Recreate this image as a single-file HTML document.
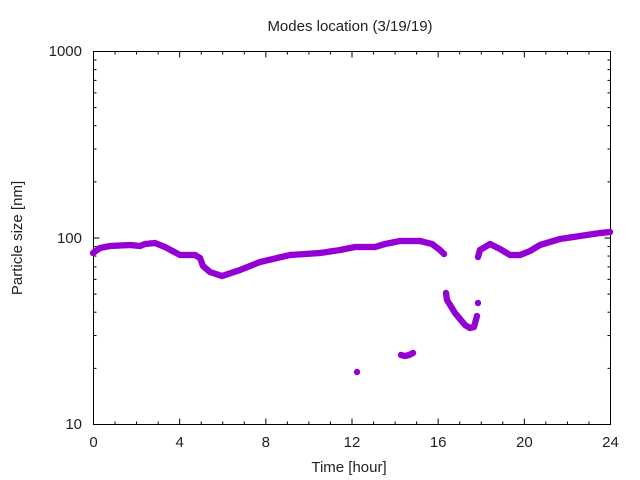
<!DOCTYPE html><html><head><style>body{margin:0;background:#fff}svg{display:block}text{font-family:"Liberation Sans","DejaVu Sans",sans-serif;font-size:15px;fill:#222}</style></head><body>
<svg id="s" width="640" height="480" xmlns="http://www.w3.org/2000/svg">
<text x="350" y="31" text-anchor="middle">Modes location (3/19/19)</text>
<text x="349" y="472" text-anchor="middle">Time [hour]</text>
<text transform="translate(22,238) rotate(-90)" text-anchor="middle">Particle size [nm]</text>
<g id="ax" stroke="#000" stroke-width="1" fill="none"><rect x="93.5" y="51.5" width="517" height="373"/></g>
<g id="pts" fill="#9400d3"></g>
</svg>
<script>
var ax=document.getElementById('ax'),s=document.getElementById('s'),P=document.getElementById('pts');
function L(x1,y1,x2,y2){var l=document.createElementNS('http://www.w3.org/2000/svg','line');l.setAttribute('x1',x1);l.setAttribute('y1',y1);l.setAttribute('x2',x2);l.setAttribute('y2',y2);ax.appendChild(l);}
function T(x,y,t,a){var e=document.createElementNS('http://www.w3.org/2000/svg','text');e.setAttribute('x',x);e.setAttribute('y',y);e.setAttribute('text-anchor',a);e.textContent=t;s.appendChild(e);}
var X0=93.5,X1=610.5,Y0=424.5,D=186.5;
for(var h=0;h<=24;h++){var x=X0+(X1-X0)*h/24,m=h%4==0?6:3;L(x,Y0,x,Y0-m);L(x,51.5,x,51.5+m);if(h%4==0)T(x,447,String(h),'middle');}
for(var d=0;d<2;d++)for(var k=1;k<10;k++){var y=Y0-D*(d+Math.log10(k)),m=k==1?6:3;L(X0,y,X0+m,y);L(X1,y,X1-m,y);}
T(82,429,'10','end');T(82,243,'100','end');T(82,56,'1000','end');
function seg(a){for(var i=0;i<a.length-1;i++){var p=a[i],q=a[i+1],dd=Math.hypot(q[0]-p[0],q[1]-p[1]),n=Math.max(1,Math.round(dd/1.8));for(var j=0;j<n;j++){var t=j/n;C(p[0]+(q[0]-p[0])*t,p[1]+(q[1]-p[1])*t);}}C(a[a.length-1][0],a[a.length-1][1]);}
function C(x,y){var c=document.createElementNS('http://www.w3.org/2000/svg','circle');c.setAttribute('cx',x);c.setAttribute('cy',y);c.setAttribute('r',3.2);P.appendChild(c);}
seg([[93,253],[100,248],[110,246],[130,245],[140,246],[145,244],[155,243],[165,247],[180,255],[195,255],[200,258],[203,266],[210,272],[222,276],[240,270],[260,262],[290,255],[320,253],[340,250],[355,247],[375,247],[385,244],[400,241],[420,241],[432,244],[440,250],[444,254]]);
seg([[478,257],[480,250],[490,244],[500,249],[510,255],[520,255],[530,251],[540,245],[560,239],[580,236],[600,233],[610,232]]);
seg([[446,293],[447,300],[455,313],[465,325],[470,328],[474,327],[477,316]]);C(478,303);
C(357,372);seg([[401,355],[405,356],[409,355],[413,353]]);
</script></body></html>
